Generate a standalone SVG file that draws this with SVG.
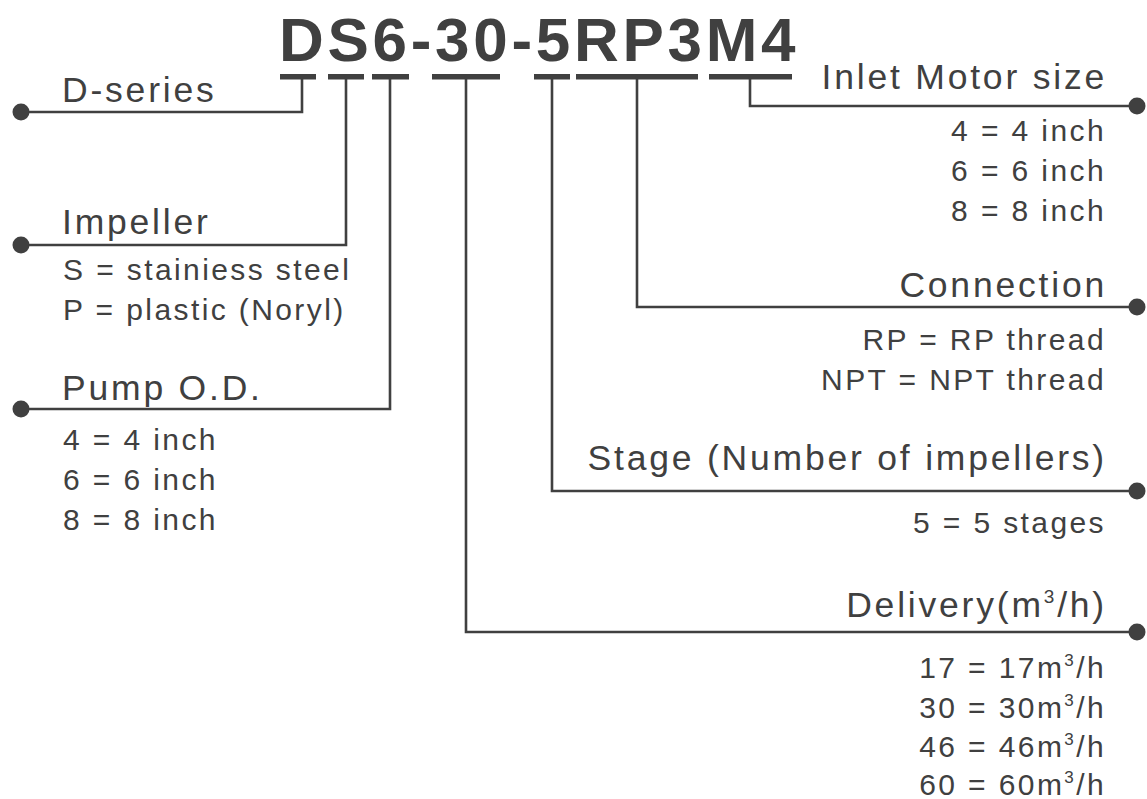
<svg xmlns="http://www.w3.org/2000/svg" width="1147" height="799" viewBox="0 0 1147 799">
<style>
text{font-family:"Liberation Sans",Arial,sans-serif;fill:#404040}
.title{font-size:62px;font-weight:bold;letter-spacing:3.7px}
.h{font-size:35.5px;letter-spacing:2.8px}
.s{font-size:30px;letter-spacing:2.4px}
.r{text-anchor:end}
.ln{fill:none;stroke:#404040;stroke-width:2.6}
.bar{fill:#404040}
.dot{fill:#404040}
</style>
<g id="title"><text class="title" x="279" y="61">DS6-30-5RP3M4</text></g>
<g id="connectors">
<rect class="bar" x="280" y="74" width="36" height="5.5"/>
<rect class="bar" x="328" y="74" width="36" height="5.5"/>
<rect class="bar" x="372" y="74" width="37" height="5.5"/>
<rect class="bar" x="432" y="74" width="68" height="5.5"/>
<rect class="bar" x="534" y="74" width="36" height="5.5"/>
<rect class="bar" x="576" y="74" width="122" height="5.5"/>
<rect class="bar" x="709" y="74" width="83" height="5.5"/>
<polyline class="ln" points="302,76 302,112 21,112"/>
<polyline class="ln" points="346,76 346,245 21,245"/>
<polyline class="ln" points="390,76 390,409 21,409"/>
<polyline class="ln" points="750,76 750,106 1137,106"/>
<polyline class="ln" points="637,76 637,307 1137,307"/>
<polyline class="ln" points="552,76 552,491 1137,491"/>
<polyline class="ln" points="466,76 466,632 1137,632"/>
<circle class="dot" cx="21" cy="112" r="8.5"/>
<circle class="dot" cx="21" cy="245" r="8.5"/>
<circle class="dot" cx="21" cy="409" r="8.5"/>
<circle class="dot" cx="1137" cy="106" r="8.5"/>
<circle class="dot" cx="1137" cy="307" r="8.5"/>
<circle class="dot" cx="1137" cy="491" r="8.5"/>
<circle class="dot" cx="1137" cy="632" r="8.5"/>
</g>
<g id="d-series"><text class="h" x="62" y="102">D-series</text></g>
<g id="impeller">
<text class="h" x="62" y="234">Impeller</text>
<text class="s" x="63" y="280">S = stainiess steel</text>
<text class="s" x="63" y="320">P = plastic (Noryl)</text>
</g>
<g id="pump-od">
<text class="h" x="62" y="400">Pump O.D.</text>
<text class="s" x="63" y="450">4 = 4 inch</text>
<text class="s" x="63" y="490">6 = 6 inch</text>
<text class="s" x="63" y="530">8 = 8 inch</text>
</g>
<g id="inlet-motor">
<text class="h r" x="1107" y="89">Inlet Motor size</text>
<text class="s r" x="1106" y="141">4 = 4 inch</text>
<text class="s r" x="1106" y="181">6 = 6 inch</text>
<text class="s r" x="1106" y="221">8 = 8 inch</text>
</g>
<g id="connection">
<text class="h r" x="1107" y="297">Connection</text>
<text class="s r" x="1106" y="350">RP = RP thread</text>
<text class="s r" x="1106" y="390">NPT = NPT thread</text>
</g>
<g id="stage">
<text class="h r" x="1107" y="470">Stage (Number of impellers)</text>
<text class="s r" x="1106" y="533">5 = 5 stages</text>
</g>
<g id="delivery">
<text class="h r" x="1107" y="617">Delivery(m<tspan font-size="19" dy="-14">3</tspan><tspan dy="14">/h)</tspan></text>
<text class="s r" x="1106" y="678">17 = 17m<tspan font-size="17" dy="-12">3</tspan><tspan dy="12">/h</tspan></text>
<text class="s r" x="1106" y="718">30 = 30m<tspan font-size="17" dy="-12">3</tspan><tspan dy="12">/h</tspan></text>
<text class="s r" x="1106" y="757">46 = 46m<tspan font-size="17" dy="-12">3</tspan><tspan dy="12">/h</tspan></text>
<text class="s r" x="1106" y="795">60 = 60m<tspan font-size="17" dy="-12">3</tspan><tspan dy="12">/h</tspan></text>
</g>
</svg>
